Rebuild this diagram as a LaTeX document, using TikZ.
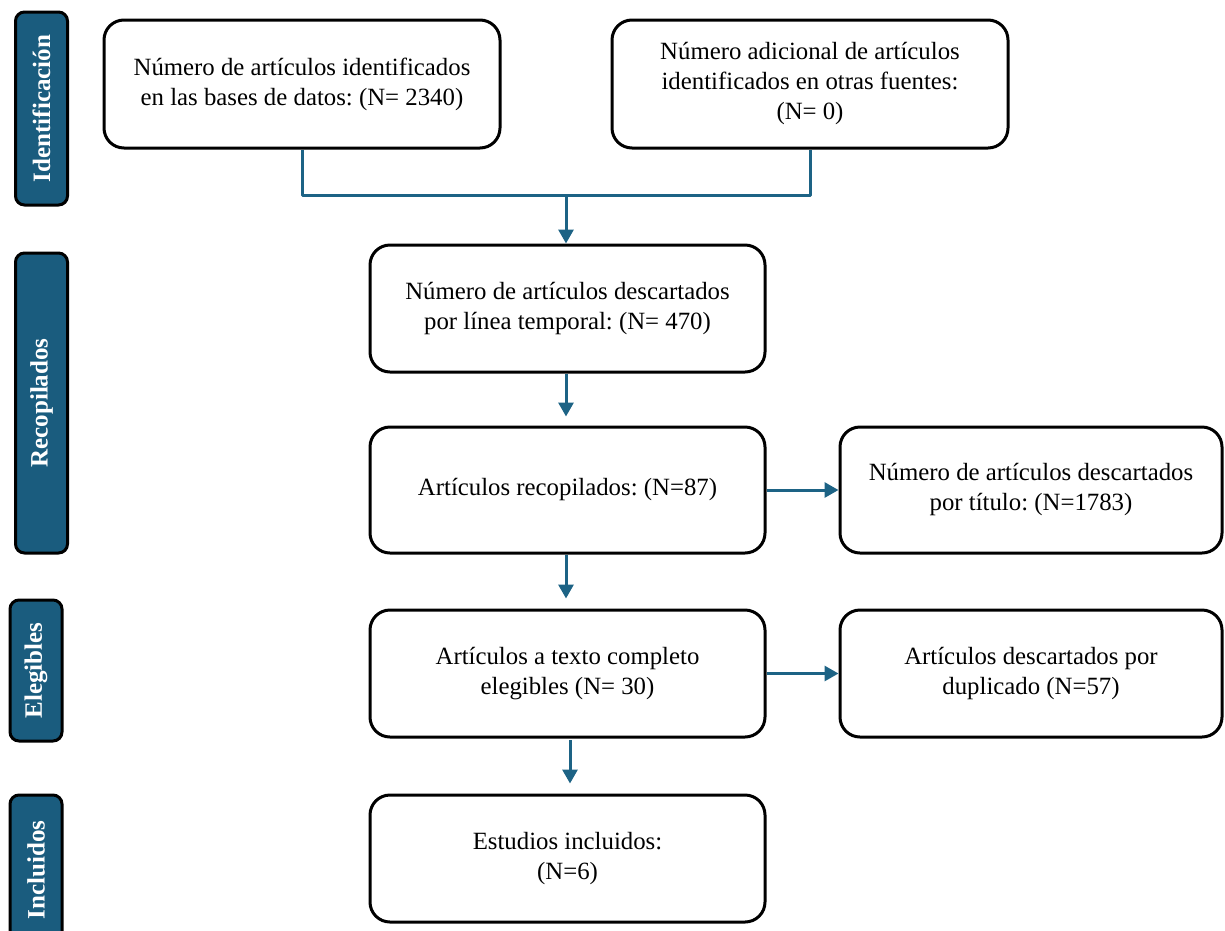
\documentclass[tikz,border=0pt]{standalone}
\usepackage{fontspec}
\setmainfont{Liberation Serif}
\usetikzlibrary{arrows.meta}
\definecolor{sidefill}{HTML}{1A5C7E}
\definecolor{conn}{HTML}{1D6385}
\frenchspacing
\tikzset{
  flowbox/.style={draw=black, line width=3pt, rounded corners=20pt, fill=white, align=center,
    font=\fontsize{24.8}{30}\selectfont\frenchspacing, inner sep=0pt},
  sidebox/.style={draw=black, line width=3pt, rounded corners=9pt, fill=sidefill, text=white,
    font=\fontsize{25}{29}\selectfont\bfseries, rotate=90, inner sep=0pt, minimum height=52pt},
  link/.style={draw=conn, line width=3pt},
  arrowlink/.style={link, -{Triangle[length=14pt,width=15pt]}}
}
\begin{document}
\begin{tikzpicture}[x=1pt,y=-1pt]
\useasboundingbox (0,0) rectangle (1225,930);
\begin{scope}
\clip (0,0) rectangle (1225,930);
% side labels
\node[sidebox, minimum width=193pt] (s1) at (41.5,108.5) {Identificación};
\node[sidebox, minimum width=300pt] (s2) at (41.5,403) {Recopilados};
\node[sidebox, minimum width=141pt] (s3) at (36,670.5) {Elegibles};
\node[sidebox, minimum width=150pt] (s4) at (36,870) {Incluidos};
% flow boxes
\node[flowbox, minimum width=396pt, minimum height=128pt] (b1) at (302,84)
  {Número de artículos identificados\\en las bases de datos: (N= 2340)};
\node[flowbox, minimum width=396pt, minimum height=128pt] (b2) at (810,84)
  {Número adicional de artículos\\identificados en otras fuentes:\\(N= 0)};
\node[flowbox, minimum width=395pt, minimum height=127pt] (b3) at (567.5,308.5)
  {Número de artículos descartados\\por línea temporal: (N= 470)};
\node[flowbox, minimum width=395pt, minimum height=126pt] (b4) at (567.5,490)
  {Artículos recopilados: (N=87)};
\node[flowbox, minimum width=382pt, minimum height=126pt] (b5) at (1031,490)
  {Número de artículos descartados\\por título: (N=1783)};
\node[flowbox, minimum width=395pt, minimum height=127pt] (b6) at (567.5,673.5)
  {Artículos a texto completo\\elegibles (N= 30)};
\node[flowbox, minimum width=382pt, minimum height=127pt] (b7) at (1031,673.5)
  {Artículos descartados por\\duplicado (N=57)};
\node[flowbox, minimum width=395pt, minimum height=127pt] (b8) at (567.5,858.5)
  {Estudios incluidos:\\(N=6)};
% connectors
\coordinate (j) at (566,195);
\draw[link, line join=round] (b1.south) |- (j);
\draw[link, line join=round] (b2.south) |- (j);
\draw[arrowlink] (j) -- (b3.north -| j);
\draw[arrowlink, shorten >=9pt] (b3.south -| j) -- (b4.north -| j);
\draw[arrowlink] (b4.east) -- (b5.west);
\draw[arrowlink, shorten >=10pt] (b4.south -| j) -- (b6.north -| j);
\draw[arrowlink] (b6.east) -- (b7.west);
\coordinate (k) at (570,740);
\draw[arrowlink, shorten >=10pt] (k) -- (b8.north -| k);
\end{scope}
\end{tikzpicture}
\end{document}
